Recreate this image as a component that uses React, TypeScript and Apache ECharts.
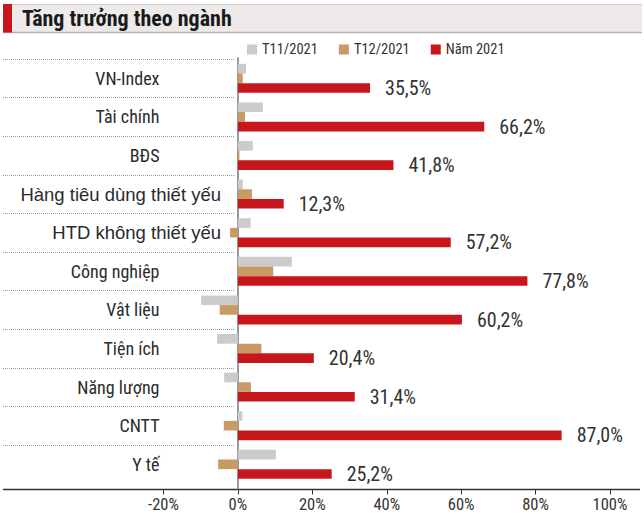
import React, { useEffect, useRef } from 'react';
import * as echarts from 'echarts';

const categories = [
  'VN-Index',
  'Tài chính',
  'BĐS',
  'Hàng tiêu dùng thiết yếu',
  'HTD không thiết yếu',
  'Công nghiệp',
  'Vật liệu',
  'Tiện ích',
  'Năng lượng',
  'CNTT',
  'Y tế',
];
const t11 = [2.2, 6.7, 4.0, 1.3, 3.4, 14.5, -9.9, -5.6, -3.7, 1.2, 10.2];
const t12 = [1.3, 1.9, 0.4, 3.8, -2.1, 9.5, -4.9, 6.3, 3.5, -3.8, -5.3];
const year2021 = [35.5, 66.2, 41.8, 12.3, 57.2, 77.8, 60.2, 20.4, 31.4, 87.0, 25.2];
const seriesNames = ['T11/2021', 'T12/2021', 'Năm 2021'];
const xMin = -20;
const xMax = 100;
const xStep = 20;
const title = 'Tăng trưởng theo ngành';

const FONT = "'Liberation Sans Narrow', 'Roboto Condensed', 'DejaVu Sans Condensed', 'Liberation Sans', sans-serif";
const WIDE_FONT = "'Liberation Sans', Arial, sans-serif";
const COLORS = ['#cbcbcb', '#c99a66', '#c8161d'];

export default function App() {
  const ref = useRef<HTMLDivElement>(null);
  useEffect(() => {
    if (!ref.current) return;
    const chart = echarts.init(ref.current, undefined, { renderer: 'svg' });
    const plotLeft = 163.5;
    const plotRight = 34;
    const plotTop = 59;
    const plotHeight = 424.6;
    const axisY = 489.5;
    chart.setOption({
      animation: false,
      textStyle: { fontFamily: FONT },
      color: COLORS,
      legend: {
        data: seriesNames,
        left: 242,
        top: 37,
        icon: 'rect',
        itemWidth: 10,
        itemHeight: 10,
        itemGap: 21,
        textStyle: { fontSize: 14.5, color: '#333', fontFamily: FONT },
      },
      graphic: [
        { type: 'rect', shape: { x: 3, y: 4, width: 639, height: 28.5 }, style: { fill: '#eeeaea' }, z: 0 },
        { type: 'line', shape: { x1: 3, y1: 4.5, x2: 642, y2: 4.5 }, style: { stroke: '#cfcfcf', lineWidth: 1 } },
        { type: 'line', shape: { x1: 3, y1: 32.5, x2: 642, y2: 32.5 }, style: { stroke: '#b5b5b5', lineWidth: 1.5 } },
        { type: 'rect', shape: { x: 3, y: 4, width: 9, height: 28.5 }, style: { fill: '#c8161d' } },
        {
          type: 'text',
          x: 22,
          y: 18.5,
          style: {
            text: title,
            fontFamily: FONT,
            fontSize: 22,
            fontWeight: 'bold',
            fill: '#1a1a1a',
            verticalAlign: 'middle',
          },
        },
        { type: 'line', shape: { x1: 3, y1: axisY, x2: 640, y2: axisY }, style: { stroke: '#333', lineWidth: 1.5 } },
      ],
      grid: [
        { left: plotLeft, right: plotRight, top: plotTop, height: plotHeight, outerBoundsMode: 'none', containLabel: false },
        { left: 3, width: 232, top: plotTop, height: 386, outerBoundsMode: 'none', containLabel: false },
        { left: plotLeft, right: plotRight, top: 58, bottom: 516 - axisY, outerBoundsMode: 'none', containLabel: false },
      ],
      xAxis: [
        { gridIndex: 0, type: 'value', min: xMin, max: xMax, interval: xStep, show: false },
        { gridIndex: 1, type: 'value', show: false },
        {
          gridIndex: 2,
          type: 'value',
          min: xMin,
          max: xMax,
          interval: xStep,
          axisLine: { show: false, onZero: false },
          axisTick: { show: true, length: 5, lineStyle: { color: '#333', width: 1 } },
          splitLine: { show: false },
          axisLabel: {
            formatter: (v: number) => `${v}%`,
            fontSize: 16.5,
            color: '#333',
            margin: 6,
            fontFamily: FONT,
          },
        },
      ],
      yAxis: [
        {
          gridIndex: 0,
          type: 'category',
          inverse: true,
          data: categories,
          axisLine: { show: false, onZero: false },
          axisTick: { show: false },
          splitLine: { show: false },
          axisLabel: {
            margin: -57.5,
            fontSize: 18,
            color: '#2b2b2b',
            fontFamily: FONT,
            formatter: (v: string) => (v.length > 15 ? `{l|${v}}` : `{s|${v}}{g| }`),
            rich: {
              l: { fontSize: 18.5, color: '#2b2b2b', fontFamily: WIDE_FONT },
              s: { fontSize: 18, color: '#2b2b2b', fontFamily: FONT },
              g: { fontSize: 18, width: 61.5 },
            },
          },
        },
        {
          gridIndex: 1,
          type: 'value',
          min: 0,
          max: 10,
          interval: 1,
          axisLine: { show: false },
          axisTick: { show: false },
          axisLabel: { show: false },
          splitLine: { show: true, lineStyle: { color: '#9a9a9a', type: 'dotted', width: 1 } },
        },
        {
          gridIndex: 2,
          type: 'value',
          min: 0,
          max: 1,
          axisLine: { show: true, onZero: true, lineStyle: { color: '#777', width: 1.5 } },
          axisTick: { show: false },
          axisLabel: { show: false },
          splitLine: { show: false },
        },
      ],
      series: [
        {
          name: seriesNames[0],
          type: 'bar',
          xAxisIndex: 0,
          yAxisIndex: 0,
          data: t11,
          barGap: '0%',
          barCategoryGap: '25%',
          itemStyle: { color: COLORS[0] },
        },
        {
          name: seriesNames[1],
          type: 'bar',
          xAxisIndex: 0,
          yAxisIndex: 0,
          data: t12,
          barGap: '0%',
          barCategoryGap: '25%',
          itemStyle: { color: COLORS[1] },
        },
        {
          name: seriesNames[2],
          type: 'bar',
          xAxisIndex: 0,
          yAxisIndex: 0,
          data: year2021,
          barGap: '0%',
          barCategoryGap: '25%',
          itemStyle: { color: COLORS[2] },
          label: {
            show: true,
            position: 'right',
            distance: 15,
            fontSize: 20,
            color: '#333',
            fontFamily: FONT,
            formatter: (p: any) => `${Number(p.value).toFixed(1).replace('.', ',')}%`,
          },
        },
      ],
    });
    return () => chart.dispose();
  }, []);
  return (
    <div
      ref={ref}
      style={{ position: 'fixed', left: 0, top: 0, width: 644, height: 516, background: '#fff' }}
    />
  );
}
